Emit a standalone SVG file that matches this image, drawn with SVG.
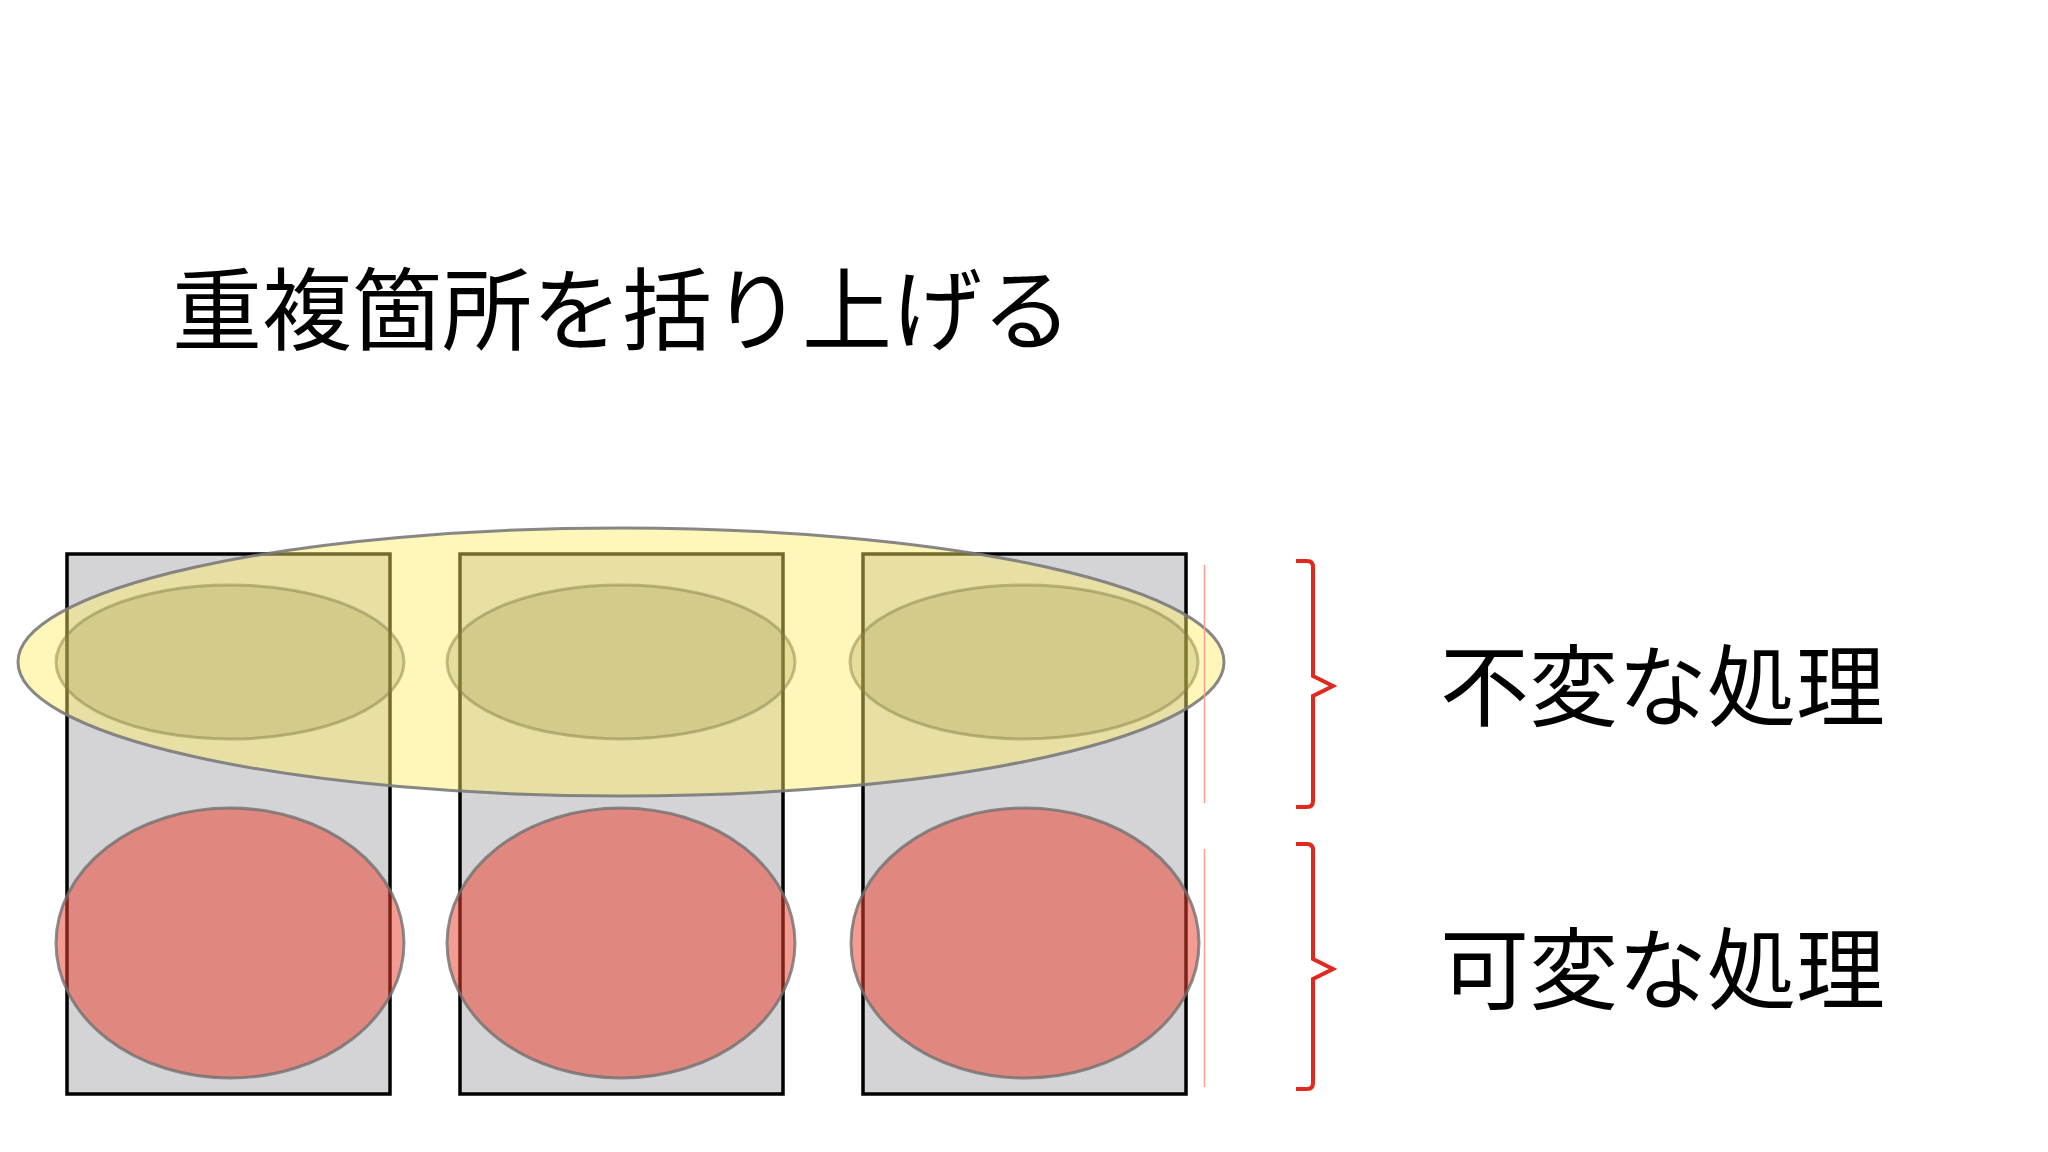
<svg xmlns="http://www.w3.org/2000/svg" width="2048" height="1152" viewBox="0 0 2048 1152">
<style>
.txt{font-family:"Noto Sans CJK JP","Noto Sans CJK SC",sans-serif;fill:#000;}
.col{fill:#d4d4d6;stroke:#000;stroke-width:3.5;}
.big{fill:#ffee66;fill-opacity:0.45;stroke:#7a7a7a;stroke-opacity:0.9;stroke-width:3;}
.small{fill:#a09646;fill-opacity:0.27;stroke:#807a40;stroke-opacity:0.45;stroke-width:3;}
.red{fill:#eb4332;fill-opacity:0.53;stroke:#707070;stroke-opacity:0.8;stroke-width:3;}
.brace{fill:none;stroke:#e0281e;stroke-width:4;stroke-linejoin:miter;}
.guide{stroke:#f4a090;stroke-width:1.5;}
</style>
<rect width="2048" height="1152" fill="#ffffff"/>
<g id="title"><text class="txt" x="172" y="343" font-size="90">重複箇所を括り上げる</text></g>
<g id="column1"><rect class="col" x="67" y="554" width="323" height="540"/></g>
<g id="column2"><rect class="col" x="460" y="554" width="323" height="540"/></g>
<g id="column3"><rect class="col" x="863" y="554" width="323" height="540"/></g>
<g id="shared-group"><ellipse class="big" cx="621" cy="662" rx="603" ry="134"/></g>
<g id="fixed1"><ellipse class="small" cx="230" cy="662" rx="174" ry="77"/></g>
<g id="fixed2"><ellipse class="small" cx="621" cy="662" rx="174" ry="77"/></g>
<g id="fixed3"><ellipse class="small" cx="1024" cy="662" rx="174" ry="77"/></g>
<g id="var1"><ellipse class="red" cx="230" cy="943" rx="174" ry="135"/></g>
<g id="var2"><ellipse class="red" cx="621" cy="943" rx="174" ry="135"/></g>
<g id="var3"><ellipse class="red" cx="1025" cy="943" rx="174" ry="135"/></g>
<g id="guides">
<line class="guide" x1="1204.5" y1="565" x2="1204.5" y2="803"/>
<line class="guide" x1="1204.5" y1="849" x2="1204.5" y2="1087"/>
</g>
<g id="brace-fixed"><path class="brace" d="M1296,561 H1307 Q1313,561 1313,567 V676 L1333,686 L1313,696 V801 Q1313,807 1307,807 H1296"/></g>
<g id="brace-var"><path class="brace" d="M1296,844 H1307 Q1313,844 1313,850 V959 L1333,969 L1313,979 V1083 Q1313,1089 1307,1089 H1296"/></g>
<g id="label-fixed"><text class="txt" x="1440" y="719" font-size="89">不変な処理</text></g>
<g id="label-var"><text class="txt" x="1440" y="1002" font-size="89">可変な処理</text></g>
</svg>
